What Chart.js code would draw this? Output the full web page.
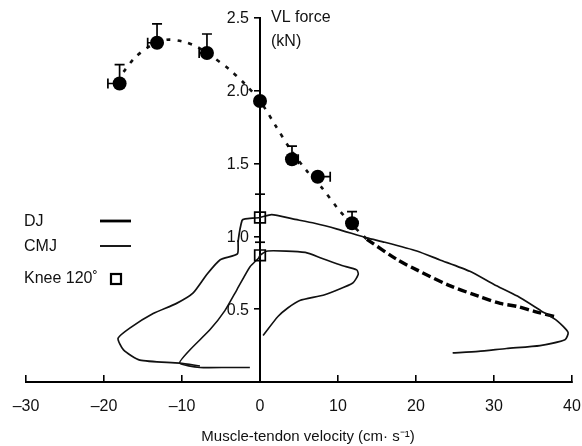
<!DOCTYPE html>
<html>
<head>
<meta charset="utf-8">
<script src="https://cdn.jsdelivr.net/npm/chart.js@4.4.1/dist/chart.umd.min.js"></script>
<style>
html, body { margin: 0; padding: 0; background: #fff; }
</style>
</head>
<body>
<canvas id="graficoForza" width="582" height="446"></canvas>
<script>
// tick labels
var xTicks = [-30, -20, -10, 0, 10, 20, 30, 40];
var yTicks = [0.5, 1.0, 1.5, 2.0, 2.5];

// mean VL force points with error bars
var meanX = [-18, -13.2, -6.8, 0, 4.1, 7.4, 11.8];
var meanY = [2.05, 2.33, 2.26, 1.93, 1.53, 1.41, 1.09];
var meanErrY = [0.13, 0.13, 0.13, 0, 0.09, 0, 0.08];
var meanErrX = [-1.5, -1.2, -1.0, 0, 0.8, 1.6, 0];

// fitted curve (dotted) and its extension (heavy dashed)
var fitX = [-17.5, -16, -14, -12, -10, -8, -6, -4, -2, 0, 2, 4, 6, 8, 10, 12, 13.7];
var fitY = [2.13, 2.23, 2.31, 2.35, 2.34, 2.30, 2.23, 2.15, 2.05, 1.93, 1.76, 1.59, 1.45, 1.33, 1.19, 1.07, 0.98];
var extX = [13.7, 17.6, 20.1, 24.4, 28, 30.8, 32.9, 35.5, 37.8];
var extY = [0.98, 0.84, 0.77, 0.66, 0.59, 0.54, 0.52, 0.48, 0.45];

// DJ trace
var djX = [24.7, 28, 31.6, 35.9, 39.1, 39.5, 38.1, 36, 33, 30, 26.9, 23, 20.1, 16, 13.7, 9.9, 7, 4.2, 1.5, 0, -1.9, -2.3, -2.8, -2.9, -5.1, -6.8, -8.6, -10.7, -13.7, -16.7, -18.2, -17.5, -15.4, -10.3, -7.7];
var djY = [0.20, 0.21, 0.23, 0.25, 0.29, 0.34, 0.42, 0.49, 0.59, 0.67, 0.76, 0.84, 0.90, 0.96, 0.99, 1.05, 1.09, 1.12, 1.15, 1.13, 1.12, 1.11, 0.97, 0.88, 0.84, 0.74, 0.61, 0.54, 0.47, 0.37, 0.30, 0.22, 0.15, 0.13, 0.11];

// CMJ trace
var cmjX = [0.4, 2.3, 3.6, 5.1, 8.3, 11.9, 12.6, 12.4, 10.5, 7.9, 5.8, 1.0, 0, -0.2, -1.3, -3, -4.5, -6.4, -9, -10.3, -7.7, -4, -1.3];
var cmjY = [0.32, 0.45, 0.51, 0.56, 0.60, 0.68, 0.74, 0.77, 0.80, 0.85, 0.89, 0.90, 0.87, 0.85, 0.79, 0.63, 0.49, 0.36, 0.22, 0.13, 0.10, 0.10, 0.10];

// knee 120 deg markers
var kneeX = [0, 0];
var kneeY = [1.13, 0.87];
var kneeErrY = [0.16, 0.09];

var legendLabels = ["DJ", "CMJ", "Knee 120\u02DA"];
var xTitle = "Muscle-tendon velocity (cm\u00B7 s\u207B\u00B9)";

function punti(xs, ys) {
  var out = [];
  for (var i = 0; i < xs.length; i++) out.push({x: xs[i], y: ys[i]});
  return out;
}

var FONT = "'Liberation Sans', Arial, sans-serif";

var extra = {
  id: 'extra',
  afterDatasetsDraw: function(chart) {
    var ctx = chart.ctx;
    var sx = chart.scales.x, sy = chart.scales.y;
    ctx.save();
    ctx.strokeStyle = '#000';
    ctx.lineWidth = 1.7;
    var cap = 5;
    // error bars on means
    for (var i = 0; i < meanX.length; i++) {
      var px = sx.getPixelForValue(meanX[i]);
      var py = sy.getPixelForValue(meanY[i]);
      if (meanErrY[i]) {
        var ey = sy.getPixelForValue(meanY[i] + meanErrY[i]);
        ctx.beginPath();
        ctx.moveTo(px, py); ctx.lineTo(px, ey);
        ctx.moveTo(px - cap, ey); ctx.lineTo(px + cap, ey);
        ctx.stroke();
      }
      if (meanErrX[i]) {
        var ex = sx.getPixelForValue(meanX[i] + meanErrX[i]);
        ctx.beginPath();
        ctx.moveTo(px, py); ctx.lineTo(ex, py);
        ctx.moveTo(ex, py - cap); ctx.lineTo(ex, py + cap);
        ctx.stroke();
      }
    }
    // error bars on knee markers
    for (var k = 0; k < kneeX.length; k++) {
      var kx = sx.getPixelForValue(kneeX[k]);
      var ky = sy.getPixelForValue(kneeY[k] + kneeErrY[k]);
      ctx.beginPath();
      ctx.moveTo(kx - cap, ky); ctx.lineTo(kx + cap, ky);
      ctx.stroke();
    }
    ctx.restore();
  },
  afterDraw: function(chart) {
    var ctx = chart.ctx;
    var sx = chart.scales.x, sy = chart.scales.y;
    var x0 = sx.getPixelForValue(0);
    ctx.save();
    ctx.fillStyle = '#111';
    ctx.font = '16px ' + FONT;
    ctx.textBaseline = 'middle';
    // y tick labels, left of the centred axis
    ctx.textAlign = 'right';
    yTicks.forEach(function(v) {
      ctx.fillText(v.toFixed(1), x0 - 11, sy.getPixelForValue(v) + 1);
    });
    ctx.textAlign = 'left';
    // y axis title
    ctx.fillText('VL force', x0 + 11, 18);
    ctx.fillText('(kN)', x0 + 11, 42);
    // legend
    ctx.fillText(legendLabels[0], 24, 222);
    ctx.fillText(legendLabels[1], 24, 247);
    ctx.fillText(legendLabels[2], 24, 279);
    ctx.strokeStyle = '#000';
    ctx.lineWidth = 2.8;
    ctx.beginPath(); ctx.moveTo(100, 221); ctx.lineTo(131, 221); ctx.stroke();
    ctx.lineWidth = 1.8;
    ctx.beginPath(); ctx.moveTo(100, 246); ctx.lineTo(131, 246); ctx.stroke();
    ctx.lineWidth = 2.2;
    ctx.strokeRect(111, 274, 10, 10);
    // x axis title
    ctx.font = '15px ' + FONT;
    ctx.textAlign = 'center';
    ctx.fillText(xTitle, 308, 437);
    ctx.restore();
  }
};

var grafico = new Chart(document.getElementById('graficoForza'), {
  type: 'scatter',
  data: {
    datasets: [
      {
        label: 'Fit',
        data: punti(fitX, fitY),
        showLine: true,
        borderColor: '#111',
        borderWidth: 2.6,
        borderDash: [4, 7],
        tension: 0.3,
        pointRadius: 0,
        order: 5
      },
      {
        label: 'Fit extension',
        data: punti(extX, extY),
        showLine: true,
        borderColor: '#000',
        borderWidth: 3.4,
        borderDash: [9, 4],
        tension: 0.3,
        pointRadius: 0,
        order: 5
      },
      {
        label: legendLabels[0],
        data: punti(djX, djY),
        showLine: true,
        borderColor: '#111',
        borderWidth: 1.7,
        tension: 0.2,
        pointRadius: 0,
        order: 4
      },
      {
        label: legendLabels[1],
        data: punti(cmjX, cmjY),
        showLine: true,
        borderColor: '#111',
        borderWidth: 1.6,
        tension: 0.2,
        pointRadius: 0,
        order: 4
      },
      {
        label: 'Mean',
        data: punti(meanX, meanY),
        showLine: false,
        pointRadius: 7,
        pointBackgroundColor: '#000',
        pointBorderColor: '#000',
        pointBorderWidth: 0,
        order: 1
      },
      {
        label: legendLabels[2],
        data: punti(kneeX, kneeY),
        showLine: false,
        pointStyle: 'rect',
        pointRadius: 7.5,
        pointBackgroundColor: 'rgba(0,0,0,0)',
        pointBorderColor: '#000',
        pointBorderWidth: 1.7,
        order: 0
      }
    ]
  },
  options: {
    responsive: false,
    animation: false,
    events: [],
    layout: { padding: { left: 26, right: 10, top: 18, bottom: 0 } },
    plugins: { legend: { display: false }, tooltip: { enabled: false } },
    scales: {
      x: {
        type: 'linear',
        min: -30,
        max: 40,
        afterFit: function(s) { s.height = 64; s.paddingLeft = 0; s.paddingRight = 0; },
        afterBuildTicks: function(s) { s.ticks = xTicks.map(function(v) { return {value: v}; }); },
        ticks: {
          color: '#111',
          font: { family: FONT, size: 16 },
          padding: 22,
          maxRotation: 0,
          callback: function(v) { return String(v).replace('-', '\u2013'); }
        },
        grid: { drawOnChartArea: false, drawTicks: true, tickLength: -7, color: '#000', lineWidth: 1.6 },
        border: { display: true, color: '#000', width: 2 }
      },
      y: {
        type: 'linear',
        min: 0,
        max: 2.5,
        position: { x: 0 },
        afterBuildTicks: function(s) { s.ticks = [{value: 0}].concat(yTicks.map(function(v) { return {value: v}; })); },
        ticks: { display: false },
        grid: { drawOnChartArea: false, drawTicks: true, tickLength: 5, color: '#000', lineWidth: 1.6 },
        border: { display: true, color: '#000', width: 2 }
      }
    }
  },
  plugins: [extra]
});
</script>
</body>
</html>
